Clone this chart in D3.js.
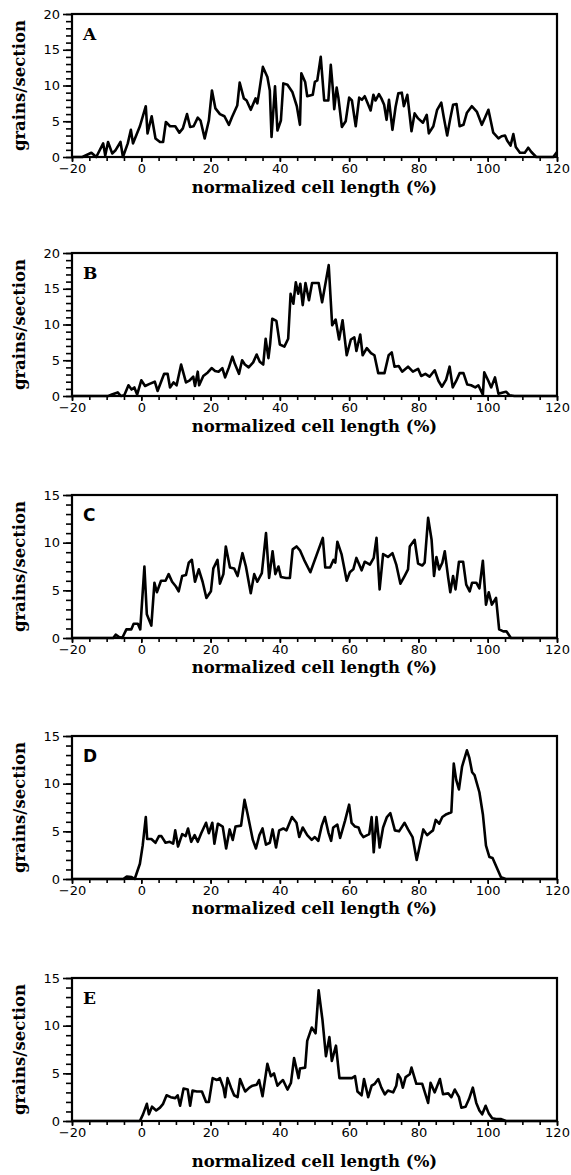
<!DOCTYPE html>
<html>
<head>
<meta charset="utf-8">
<script src="https://cdn.jsdelivr.net/npm/d3@7"></script>
<style>
  body { margin: 0; background: #fff; }
  .tick text { font-family: "DejaVu Sans", sans-serif; font-size: 13px; fill: #000; }
  .tick line { stroke: #000; stroke-width: 1.6; }
</style>
</head>
<body>
<div id="chart"></div>
<script>
// panel letters, y ranges and tick labels
const panelLetters = ["A", "B", "C", "D", "E"];
const yMaxes = [20, 20, 15, 15, 15];
const xTickLabels = [-20, 0, 20, 40, 60, 80, 100, 120];
const xLabel = "normalized cell length (%)";
const yLabel = "grains/section";

// [normalized cell length, grains/section]
const seriesA = [[-20,0],[-17,0],[-14.4,0.6],[-13,0],[-11,1.9],[-10.4,0.2],[-9.6,2.1],[-8.4,0.5],[-7.5,0.9],[-6,2.1],[-5.3,0],[-3.9,1.9],[-3,3.8],[-2.4,1.9],[-0.4,4.3],[1.3,7.1],[1.8,3.3],[3,5.7],[4.1,2.6],[5.4,2.1],[6.3,2.1],[7.1,4.9],[8.3,4.3],[9.8,4.3],[11,3.4],[12,4.0],[13.2,6.0],[14.1,4.2],[15.1,4.3],[16.3,5.5],[17.1,5.1],[18.3,2.6],[19.5,5.1],[20.4,9.3],[21.4,6.8],[22.7,6.0],[24,5.7],[25.3,4.5],[26.2,5.6],[27.7,7.2],[28.4,10.4],[29.6,8.2],[30.4,7.9],[31.6,6.6],[33,8.2],[33.5,7.5],[34,9.0],[35.1,12.6],[36.4,11.2],[37.1,9.3],[37.6,2.8],[38.6,9.9],[39.3,3.7],[40.3,5.1],[41,10.3],[42.2,10.1],[43.6,9.1],[44.9,7.1],[45.8,4.5],[46.2,11.7],[47.3,10.5],[47.9,8.5],[49.5,8.7],[50.1,10.5],[50.8,10.7],[51.8,14.0],[52.8,7.9],[54,7.9],[54.7,12.9],[55.4,8.9],[55.7,6.7],[56.4,9.7],[56.9,8.3],[57.9,4.2],[59,5.0],[60,8.3],[60.8,7.9],[61.9,4.3],[62.9,8.3],[63.7,8.0],[64.5,8.5],[65.2,7.7],[66.2,6.5],[67,8.7],[67.6,7.9],[68.6,8.8],[69.3,8.2],[70.1,7.3],[70.8,5.2],[71.5,8.0],[72.5,3.8],[73.4,7.0],[74.2,8.9],[75.2,9.0],[75.8,7.1],[76.8,8.7],[78,3.6],[78.9,6.1],[79.9,5.4],[81.3,4.8],[82.4,5.9],[83,3.3],[84.3,4.3],[85.4,6.6],[86.6,7.6],[87.3,5.6],[88.3,3.0],[89.2,5.4],[90,7.3],[91,7.4],[91.9,4.3],[93,4.5],[94,6.2],[95.4,7.1],[96.9,6.3],[98.3,4.5],[99.2,5.5],[100.2,6.6],[101.6,3.4],[103.1,2.6],[104,2.9],[105,3.0],[105.6,2.3],[106.6,1.6],[107.4,3.2],[108.1,1.4],[109.3,0.6],[110.7,0.6],[111.7,1.3],[112.6,0.7],[114,0],[118.9,0],[120,0.7]];

const seriesB = [[-20,0],[-9.5,0],[-8.5,0.2],[-6.8,0.5],[-5.9,0],[-4.9,0.1],[-3.7,1.5],[-2.8,0.9],[-2,1.2],[-1.2,0.2],[0,2.2],[1.1,1.4],[2.4,1.7],[3.9,2.0],[4.7,0.7],[5.8,2.1],[6.6,3.1],[7.6,3.1],[8.3,1.2],[9.3,1.9],[10.2,1.5],[11.5,4.4],[12.9,1.9],[14,2.2],[15,2.7],[15.5,1.4],[16.3,3.4],[16.7,1.5],[17.9,2.8],[19.2,3.3],[20.3,3.9],[21.3,3.5],[22.3,3.4],[23.4,3.9],[24.2,2.6],[25.3,4.0],[26.3,5.5],[27,4.5],[28.2,3.1],[29.1,5.0],[29.9,4.4],[31,4.0],[32.3,4.7],[33.3,5.8],[34.2,4.8],[35.2,4.4],[35.9,8.0],[36.7,5.3],[37.2,7.3],[37.8,10.8],[39,10.5],[40,7.2],[41.3,6.9],[42.4,8.0],[43.1,14.3],[43.9,12.9],[44.6,15.9],[45.3,14.3],[45.9,15.7],[46.6,12.7],[47.4,15.8],[48.4,13.4],[49.3,15.8],[50.1,15.8],[51.2,15.8],[52.2,13.1],[54.1,18.3],[55.1,9.9],[56.1,10.7],[57.1,7.9],[58.1,10.6],[59.3,5.7],[60.5,7.9],[61.5,8.2],[62.1,6.3],[63.2,8.6],[63.9,5.7],[65.1,6.7],[66.3,6.0],[67.3,5.7],[68.4,3.2],[70.2,3.2],[71.4,5.7],[72.3,6.1],[73.1,4.1],[74.3,4.2],[75.3,3.4],[77,4.1],[78.4,3.4],[79.9,3.8],[80.8,2.8],[82,3.1],[83.2,2.7],[84.7,3.6],[85.8,2.1],[86.8,1.3],[88,2.3],[89,4.1],[89.9,1.2],[90.9,2.1],[91.9,3.2],[93,3.2],[94.1,1.6],[95.2,1.5],[96.4,1.2],[97.3,1.5],[98.6,0.2],[99,3.3],[100.2,2.1],[101,1.2],[102.1,2.6],[103.1,0.3],[104.4,0.5],[105.3,0.6],[106.3,0.1],[107.7,0],[120,0]];

const seriesC = [[-20,0],[-8.1,0],[-7.4,0.35],[-6.4,0.1],[-5.5,0],[-4.3,0.9],[-2.9,0.9],[-2.2,1.5],[-1,1.5],[-0.3,0.9],[0.9,7.5],[1.6,2.5],[2.9,1.3],[3.8,5.8],[4.5,4.8],[5.7,6.0],[7,6.0],[7.9,6.7],[8.9,5.9],[10,5.4],[10.8,4.9],[11.8,6.5],[12.9,6.6],[13.7,7.9],[14.6,8.2],[15.5,5.9],[16.6,7.2],[17.7,5.9],[18.8,4.2],[20.1,4.9],[20.8,7.3],[22,8.2],[22.7,5.7],[23.7,6.7],[24.4,9.6],[25.6,7.4],[26.8,7.3],[27.8,6.5],[29.2,8.9],[30.2,7.5],[31.6,4.7],[32.6,6.7],[33.5,5.9],[34.8,6.8],[36,11.0],[36.9,6.3],[37.9,9.1],[38.7,6.7],[39.6,7.5],[40.3,6.4],[41.8,6.3],[42.9,6.3],[43.7,9.3],[44.8,9.6],[45.8,9.2],[47,8.2],[48.8,6.9],[52.4,10.5],[53.1,7.4],[54.5,7.4],[55.5,8.2],[56,7.9],[56.6,10.1],[57.8,8.8],[59.3,6.0],[60.2,6.9],[61.2,7.2],[62.1,8.4],[63.6,7.1],[64.5,8.0],[66,7.7],[67.1,8.4],[67.9,10.5],[68.8,5.1],[69.8,8.8],[71.2,8.5],[72.5,8.9],[73.6,7.7],[74.8,5.7],[76,6.5],[77,7.2],[77.5,9.6],[78.9,10.3],[79.9,7.8],[81.1,7.6],[81.8,7.9],[82.8,12.6],[83.8,10.3],[84.5,6.5],[85.2,8.5],[86,7.2],[86.9,7.9],[87.6,9.1],[88.6,6.3],[89.2,4.8],[90,6.5],[90.7,5.1],[91.7,8.0],[92.9,8.0],[93.8,5.6],[94.8,4.9],[95.5,5.8],[96.7,5.8],[97.6,5.2],[98.6,8.1],[99.5,3.5],[100.3,4.8],[101.2,3.5],[102.4,4.2],[103.3,0.9],[104.5,0.7],[105.4,0.7],[106.7,0],[120,0]];

const seriesD = [[-20,0],[-5.2,0],[-4.2,0.25],[-2.8,0.2],[-1.9,0],[-0.4,1.6],[0.4,3.5],[1.3,6.5],[1.7,4.2],[2.9,4.2],[4.1,3.8],[5.1,4.5],[5.8,4.5],[7,3.8],[8.2,3.9],[9.2,3.7],[9.8,5.1],[10.6,3.4],[11.8,4.7],[12.8,4.5],[13.5,5.3],[14.4,3.9],[15.4,4.6],[16.3,3.9],[17.3,4.8],[18.7,5.9],[19.5,4.8],[20.5,5.9],[21.1,3.7],[22.1,5.8],[23.5,5.5],[24.5,3.2],[25.5,5.2],[26.4,4.1],[27.2,5.5],[28.8,5.6],[29.8,8.3],[30.7,6.8],[32.2,4.1],[33.1,3.2],[34.1,4.6],[35,5.3],[36,3.6],[37.1,3.8],[37.9,5.2],[38.9,3.3],[39.8,5.1],[41,5.3],[41.9,5.1],[43.5,6.5],[44.8,5.9],[45.6,4.4],[46.6,5.4],[47.9,4.6],[49.2,4.1],[50.1,4.4],[51.1,4.0],[52.1,5.6],[53,6.5],[54,4.9],[54.8,4.0],[55.4,5.4],[56.6,5.7],[57.4,4.3],[58.8,6.1],[60,7.8],[60.7,5.9],[61.7,5.5],[62.7,5.4],[63.3,4.8],[64.1,4.4],[65.8,4.7],[66.5,6.5],[67.1,2.8],[67.9,6.5],[68.8,3.3],[69.8,5.4],[70.9,6.5],[71.9,6.9],[73.2,5.1],[74.4,5.0],[76,5.9],[77,5.2],[78.3,4.4],[79.5,2.0],[80.4,3.5],[81.4,5.2],[82.5,4.6],[83.5,4.9],[84.2,5.1],[85,6.2],[86,5.8],[86.9,6.5],[88.1,6.8],[89.5,7.0],[90.2,12.1],[90.9,10.4],[91.7,9.4],[92.6,11.8],[94,13.5],[94.7,12.7],[95.5,11.2],[96.2,10.9],[97.6,9.1],[98.6,6.8],[99.5,3.5],[100.5,2.3],[101.4,2.2],[102.6,1.2],[103.8,0.2],[105.2,0],[120,0]];

const seriesE = [[-20,0],[-0.4,0],[0.5,0.7],[1.6,1.8],[2.2,0.7],[3.1,1.5],[4.3,1.1],[5.4,1.4],[6.3,1.8],[7.3,2.7],[8.5,2.5],[9.8,2.4],[10.5,2.7],[11.2,1.6],[12.2,3.4],[13.4,3.3],[14.1,1.6],[14.8,3.2],[16,3.1],[17.5,3.1],[18.7,2.0],[19.5,2.0],[20.6,4.5],[21.8,4.3],[22.7,4.5],[23.7,3.5],[24.2,2.5],[24.9,4.5],[25.9,3.5],[26.8,2.7],[27.8,2.5],[28.5,4.4],[29.4,3.6],[30,3.1],[31.2,3.5],[32.1,3.7],[33.3,3.8],[34,4.3],[35,2.6],[36.4,6.0],[37.4,4.7],[38.3,5.0],[39.3,3.7],[40.3,4.1],[40.9,4.3],[42.2,3.3],[43.2,4.0],[44.1,6.6],[45.4,4.5],[45.8,5.5],[47.3,5.6],[47.9,8.4],[49.2,9.8],[50.3,9.2],[51.2,13.7],[52.3,10.6],[53.3,6.8],[54.3,8.8],[55,6.3],[56.2,7.9],[57.2,4.5],[58.4,4.5],[60.8,4.5],[61.7,4.7],[62.4,3.1],[63.6,2.7],[64.3,4.4],[65.5,2.5],[66.5,3.7],[67.4,3.9],[68.4,4.4],[69.3,3.5],[70.3,2.8],[71.2,3.2],[72.7,3.0],[73.6,3.7],[74.1,4.9],[74.8,4.5],[75.5,3.5],[76.3,4.6],[77.5,4.9],[78,5.6],[79.4,3.9],[81.1,3.9],[82.8,1.9],[83.5,4.0],[84.7,3.0],[86.2,4.4],[87.1,2.8],[88.6,2.9],[89.5,2.5],[90.5,3.3],[91.7,2.5],[92.4,1.4],[93.6,1.5],[94.6,2.3],[95.7,3.5],[96.7,1.9],[97.6,1.1],[98.4,0.7],[99.4,1.6],[100.3,0.8],[101.3,0.3],[102.4,0.2],[103.9,0.2],[105.3,0],[120,0]];

const allSeries = [seriesA, seriesB, seriesC, seriesD, seriesE];

// layout
const width = 571, height = 1175;
const left = 72, right = 557, plotH = 143;
const tops = [14, 253, 495, 736, 978];
const titleOffsets = [36, 36, 35, 35, 46];
const letterFonts = ["DejaVu Serif", "DejaVu Serif", "DejaVu Sans", "DejaVu Sans", "DejaVu Serif"];

const svg = d3.select("#chart")
  .append("svg")
  .attr("width", width)
  .attr("height", height);

const x = d3.scaleLinear().domain([-20, 120]).range([left, right]);

allSeries.forEach((data, i) => {
  const top = tops[i];
  const bottom = top + plotH;
  const y = d3.scaleLinear().domain([0, yMaxes[i]]).range([bottom, top]);
  const g = svg.append("g");

  // minor ticks first, then labelled ones
  g.append("g")
    .attr("transform", `translate(0,${bottom})`)
    .call(d3.axisBottom(x).tickValues(d3.range(-20, 121, 5)).tickSize(4).tickFormat(""))
    .call(a => a.select(".domain").remove());
  g.append("g")
    .attr("transform", `translate(0,${bottom})`)
    .call(d3.axisBottom(x).tickValues(xTickLabels).tickSize(5).tickPadding(2).tickFormat(d3.format("d")))
    .call(a => a.select(".domain").remove());

  g.append("g")
    .attr("transform", `translate(${left},0)`)
    .call(d3.axisLeft(y).tickValues(d3.range(0, yMaxes[i] + 1, 1)).tickSize(6).tickFormat(""))
    .call(a => a.select(".domain").remove());
  g.append("g")
    .attr("transform", `translate(${left},0)`)
    .call(d3.axisLeft(y).tickValues(d3.range(0, yMaxes[i] + 1, 5)).tickSize(9).tickPadding(3).tickFormat(d3.format("d")))
    .call(a => a.select(".domain").remove());

  // frame
  g.append("rect")
    .attr("x", left)
    .attr("y", top)
    .attr("width", right - left)
    .attr("height", plotH)
    .attr("fill", "none")
    .attr("stroke", "#000")
    .attr("stroke-width", 2.2);

  const line = d3.line()
    .x(d => x(d[0]))
    .y(d => y(d[1]));

  g.append("path")
    .datum(data)
    .attr("fill", "none")
    .attr("stroke", "#000")
    .attr("stroke-width", 2.6)
    .attr("stroke-linejoin", "round")
    .attr("d", line);

  g.append("text")
    .attr("x", left + 11)
    .attr("y", top + 26)
    .attr("font-family", letterFonts[i])
    .attr("font-size", 17)
    .attr("font-weight", 600)
    .text(panelLetters[i]);

  g.append("text")
    .attr("x", (left + right) / 2)
    .attr("y", bottom + titleOffsets[i])
    .attr("text-anchor", "middle")
    .attr("font-family", "DejaVu Serif")
    .attr("font-weight", "bold")
    .attr("font-size", 16.5)
    .text(xLabel);

  g.append("text")
    .attr("transform", `translate(25,${(top + bottom) / 2}) rotate(-90)`)
    .attr("text-anchor", "middle")
    .attr("font-family", "DejaVu Serif")
    .attr("font-weight", "bold")
    .attr("font-size", 16.5)
    .text(yLabel);
});
</script>
</body>
</html>
